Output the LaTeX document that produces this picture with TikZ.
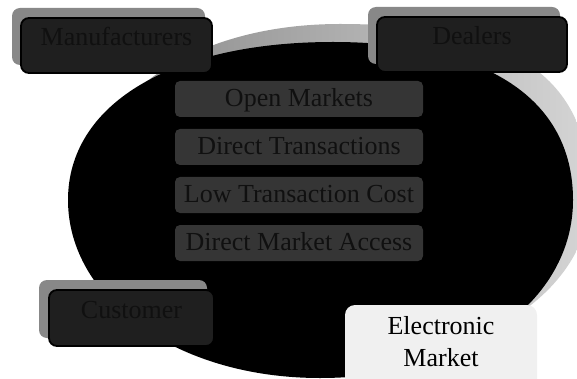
\documentclass[tikz,border=0pt]{standalone}
\usepackage{fontspec}
\setmainfont{Liberation Serif}
\definecolor{boxfill}{HTML}{1F1F1F}
\definecolor{shadowgray}{HTML}{888888}
\definecolor{innerfill}{HTML}{353535}
\definecolor{txtdark}{HTML}{101010}
\definecolor{lightfill}{HTML}{F0F0F0}
\definecolor{shadeL}{HTML}{858585}
\definecolor{shadeR}{HTML}{D5D5D5}
\tikzset{
  obox/.style={draw=black, line width=1.8pt, fill=boxfill, rounded corners=8pt, inner sep=0pt},
  oshadow/.style={fill=shadowgray, rounded corners=8pt, inner sep=0pt},
  otext/.style={text=txtdark, font=\fontsize{26}{31}\selectfont, inner sep=0pt, anchor=base},
  ibox/.style={fill=innerfill, rounded corners=5pt, minimum width=248pt, minimum height=36pt,
    inner sep=0pt, text=txtdark, font=\fontsize{26}{31}\selectfont, text height=18pt, text depth=3pt},
  ebox/.style={fill=lightfill, rounded corners=10pt, minimum width=192pt, minimum height=87pt, inner sep=0pt},
  etext/.style={text=black, font=\fontsize{26}{32}\selectfont, inner sep=0pt, align=center, anchor=base}
}
\begin{document}
\begin{tikzpicture}[x=1pt,y=-1pt]
\useasboundingbox (0,0) rectangle (577,379);
\clip (0,0) rectangle (577,379);
% ellipse shadow
\shade[left color=shadeL, right color=shadeR]
  (85,195) .. controls (85,105) and (185,24) .. (340,24)
  .. controls (510,24) and (590,75) .. (590,195)
  .. controls (590,290) and (480,365) .. (330,365)
  .. controls (190,365) and (85,290) .. (85,195) -- cycle;
% black ellipse
\fill[black]
  (68,200) .. controls (68,105) and (170,42) .. (333,42)
  .. controls (485,42) and (573,98) .. (573,200)
  .. controls (573,300) and (470,378) .. (320,378)
  .. controls (175,378) and (68,298) .. (68,200) -- cycle;
% inner boxes
\node[ibox] (om) at (299,99) {Open Markets};
\node[ibox] (dt) at (299,147) {Direct Transactions};
\node[ibox] (ltc) at (299,195) {Low Transaction Cost};
\node[ibox] (dma) at (299,243) {Direct Market Access};
% Manufacturers
\node[oshadow, minimum width=193pt, minimum height=57pt] (mans) at (108.5,36.5) {};
\node[obox, minimum width=191pt, minimum height=55pt] (man) at (116.5,45.5) {};
\node[otext] (mant) at (116.5,46) {Manufacturers};
% Dealers
\node[oshadow, minimum width=192pt, minimum height=57pt] (deas) at (464,35.5) {};
\node[obox, minimum width=190pt, minimum height=55pt] (dea) at (472,44.5) {};
\node[otext] (deat) at (472,45) {Dealers};
% Customer
\node[oshadow, minimum width=168pt, minimum height=58pt] (cuss) at (123,309) {};
\node[obox, minimum width=165pt, minimum height=56pt] (cus) at (131.5,318) {};
\node[otext] (cust) at (131.5,318) {Customer};
% Electronic Market
\node[ebox] (em) at (441,348.5) {};
\node[etext] (emt) at (441,366) {Electronic\\Market};
\end{tikzpicture}
\end{document}
